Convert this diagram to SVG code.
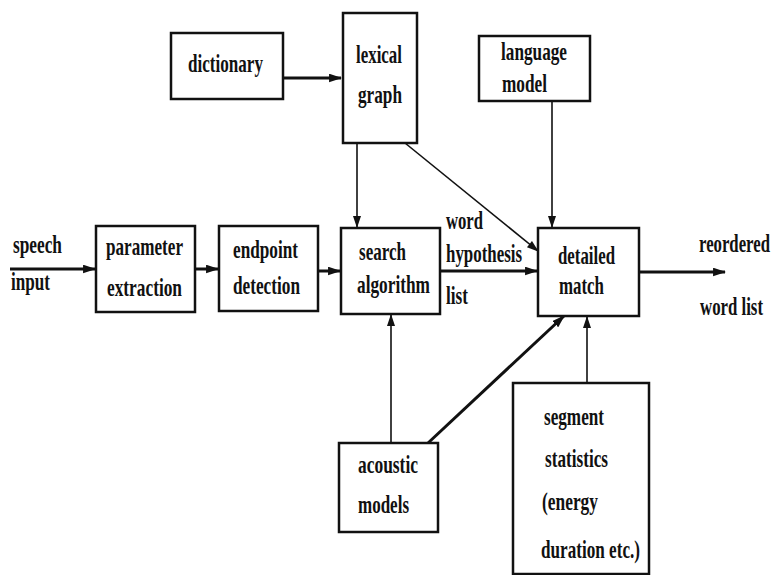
<svg xmlns="http://www.w3.org/2000/svg" width="774" height="575" viewBox="0 0 774 575">
<style>
.box{fill:#fff;stroke:#111;stroke-width:2.5}
.t{font-family:'Liberation Serif','DejaVu Serif',serif;font-weight:700;font-size:26px;fill:#111}
.thin{stroke:#111;stroke-width:1.6;fill:none}
.thick{stroke:#111;stroke-width:3;fill:none}
</style>
<defs>
<marker id="ah" viewBox="0 0 12 8" refX="11" refY="4" markerWidth="13" markerHeight="9" markerUnits="userSpaceOnUse" orient="auto">
<path d="M0,0 L12,4 L0,8 Z" fill="#111"/>
</marker>
<marker id="ahs" viewBox="0 0 12 8" refX="11" refY="4" markerWidth="14" markerHeight="8" markerUnits="userSpaceOnUse" orient="auto">
<path d="M0,0 L12,4 L0,8 Z" fill="#111"/>
</marker>
</defs>
<rect width="774" height="575" fill="#fff"/>
<g id="connectors">
<line class="thick" x1="283" y1="78" x2="341" y2="78" marker-end="url(#ah)"/>
<line class="thin" x1="357" y1="143" x2="357" y2="227" marker-end="url(#ahs)"/>
<line class="thin" x1="405" y1="143" x2="538" y2="251" marker-end="url(#ahs)"/>
<line class="thin" x1="552" y1="101" x2="552" y2="227" marker-end="url(#ahs)"/>
<line class="thick" x1="10" y1="269" x2="95" y2="269" marker-end="url(#ah)"/>
<line class="thick" x1="195" y1="269" x2="218" y2="269" marker-end="url(#ah)"/>
<line class="thick" x1="318" y1="271" x2="340" y2="271" marker-end="url(#ah)"/>
<line class="thick" x1="440" y1="271" x2="537" y2="271" marker-end="url(#ah)"/>
<line class="thick" x1="639" y1="272" x2="725" y2="272" marker-end="url(#ah)"/>
<line class="thin" x1="391" y1="443" x2="391" y2="315" marker-end="url(#ahs)"/>
<line class="thick" x1="428" y1="443" x2="564" y2="316" marker-end="url(#ah)"/>
<line class="thin" x1="587" y1="383" x2="587" y2="317" marker-end="url(#ahs)"/>
</g>
<g id="dictionary">
<rect class="box" x="171" y="33" width="112" height="66"/>
<text class="t" x="188" y="72" textLength="75" lengthAdjust="spacingAndGlyphs">dictionary</text>
</g>
<g id="lexical-graph">
<rect class="box" x="343" y="13" width="74" height="130"/>
<text class="t" x="356" y="63" textLength="46" lengthAdjust="spacingAndGlyphs">lexical</text>
<text class="t" x="358" y="103" textLength="44" lengthAdjust="spacingAndGlyphs">graph</text>
</g>
<g id="language-model">
<rect class="box" x="479" y="36" width="111" height="65"/>
<text class="t" x="501" y="60" textLength="66" lengthAdjust="spacingAndGlyphs">language</text>
<text class="t" x="502" y="92" textLength="45" lengthAdjust="spacingAndGlyphs">model</text>
</g>
<g id="speech-input">
<text class="t" x="13" y="253" textLength="49" lengthAdjust="spacingAndGlyphs">speech</text>
<text class="t" x="11" y="290" textLength="39" lengthAdjust="spacingAndGlyphs">input</text>
</g>
<g id="parameter-extraction">
<rect class="box" x="96" y="226" width="99" height="86"/>
<text class="t" x="106" y="255" textLength="77" lengthAdjust="spacingAndGlyphs">parameter</text>
<text class="t" x="107" y="296" textLength="75" lengthAdjust="spacingAndGlyphs">extraction</text>
</g>
<g id="endpoint-detection">
<rect class="box" x="219" y="226" width="99" height="85"/>
<text class="t" x="233" y="258" textLength="65" lengthAdjust="spacingAndGlyphs">endpoint</text>
<text class="t" x="233" y="294" textLength="67" lengthAdjust="spacingAndGlyphs">detection</text>
</g>
<g id="search-algorithm">
<rect class="box" x="341" y="228" width="99" height="86"/>
<text class="t" x="359" y="260" textLength="47" lengthAdjust="spacingAndGlyphs">search</text>
<text class="t" x="357" y="293" textLength="73" lengthAdjust="spacingAndGlyphs">algorithm</text>
</g>
<g id="word-hypothesis-list">
<text class="t" x="446" y="229" textLength="37" lengthAdjust="spacingAndGlyphs">word</text>
<text class="t" x="446" y="262" textLength="76" lengthAdjust="spacingAndGlyphs">hypothesis</text>
<text class="t" x="446" y="304" textLength="22" lengthAdjust="spacingAndGlyphs">list</text>
</g>
<g id="detailed-match">
<rect class="box" x="538" y="228" width="101" height="88"/>
<text class="t" x="558" y="264" textLength="57" lengthAdjust="spacingAndGlyphs">detailed</text>
<text class="t" x="559" y="294" textLength="45" lengthAdjust="spacingAndGlyphs">match</text>
</g>
<g id="reordered-word-list">
<text class="t" x="699" y="252" textLength="71" lengthAdjust="spacingAndGlyphs">reordered</text>
<text class="t" x="700" y="315" textLength="63" lengthAdjust="spacingAndGlyphs">word list</text>
</g>
<g id="acoustic-models">
<rect class="box" x="339" y="443" width="99" height="89"/>
<text class="t" x="358" y="473" textLength="60" lengthAdjust="spacingAndGlyphs">acoustic</text>
<text class="t" x="358" y="513" textLength="51" lengthAdjust="spacingAndGlyphs">models</text>
</g>
<g id="segment-statistics">
<rect class="box" x="513" y="383" width="136" height="191"/>
<text class="t" x="544" y="425" textLength="60" lengthAdjust="spacingAndGlyphs">segment</text>
<text class="t" x="545" y="467" textLength="63" lengthAdjust="spacingAndGlyphs">statistics</text>
<text class="t" x="542" y="510" textLength="56" lengthAdjust="spacingAndGlyphs">(energy</text>
<text class="t" x="541" y="558" textLength="99" lengthAdjust="spacingAndGlyphs">duration etc.)</text>
</g>
</svg>
